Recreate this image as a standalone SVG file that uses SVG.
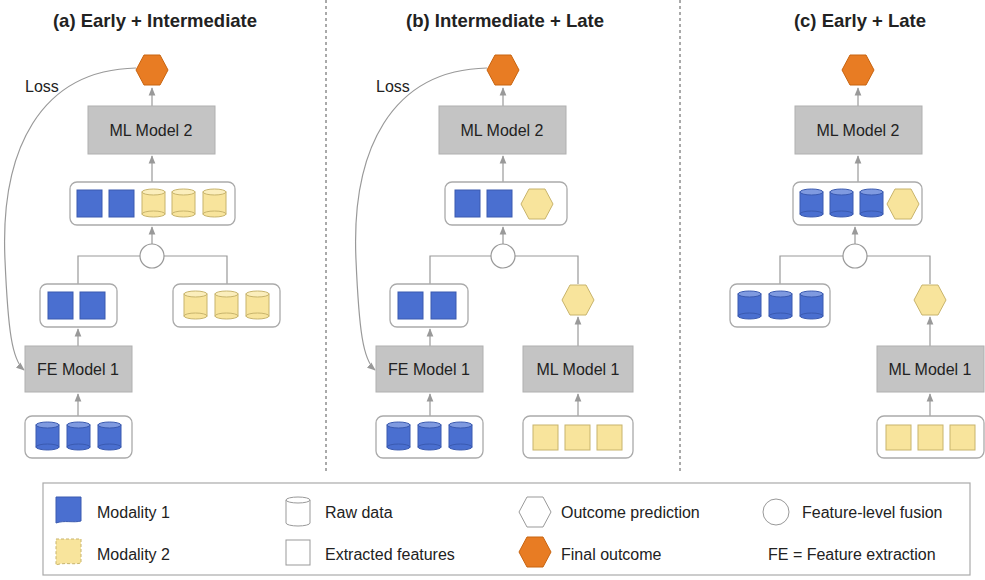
<svg xmlns="http://www.w3.org/2000/svg" width="985" height="580" viewBox="0 0 985 580">
<defs>
<style>
text{font-family:"Liberation Sans",Arial,sans-serif;fill:#222}
.t{font-size:18.5px;font-weight:bold}
.m{font-size:16px}
.l{font-size:16px}
.box{fill:#c4c4c4;stroke:#b0b0b0;stroke-width:1}
.ct{fill:#fff;stroke:#aaa;stroke-width:1.3}
.b{fill:#4a6fd0;stroke:#3a5ab0;stroke-width:1}
.y{fill:#f8e49c;stroke:#c8b46c;stroke-width:1}
.ln{fill:none;stroke:#999;stroke-width:1.2}
.fo{fill:#e87c23;stroke:#c86410;stroke-width:1}
.ci{fill:#fff;stroke:#999;stroke-width:1.2}
.dv{stroke:#555;stroke-width:1;stroke-dasharray:3,3}
</style>
<marker id="ar" viewBox="0 0 10 10" refX="9" refY="5" markerWidth="7" markerHeight="7" orient="auto"><path d="M0,1 L10,5 L0,9z" fill="#999"/></marker>
<g id="cb"><rect x="0" y="4" width="23" height="22" class="b"/><ellipse cx="11.5" cy="26" rx="11.5" ry="3" class="b"/><ellipse cx="11.5" cy="4" rx="11.5" ry="3" fill="#7f9ae0" stroke="#3a5ab0"/></g>
<g id="cy"><rect x="0" y="4" width="23" height="22" class="y"/><ellipse cx="11.5" cy="26" rx="11.5" ry="3" class="y"/><ellipse cx="11.5" cy="4" rx="11.5" ry="3" fill="#fbeebc" stroke="#c8b46c"/></g>
<rect id="sb" width="25" height="27" class="b"/>
<rect id="sy" width="25" height="25" class="y"/>
<polygon id="hy" points="-8,-15 8,-15 16,0 8,15 -8,15 -16,0" class="y"/>
<polygon id="ho" points="-8,-15 8,-15 16,0 8,15 -8,15 -16,0" class="fo"/>
</defs>
<rect width="985" height="580" fill="#fff"/>
<line x1="326" y1="0" x2="326" y2="472" class="dv"/>
<line x1="680" y1="0" x2="680" y2="472" class="dv"/>
<text x="155" y="27" class="t" text-anchor="middle">(a) Early + Intermediate</text>
<text x="505" y="27" class="t" text-anchor="middle">(b) Intermediate + Late</text>
<text x="860" y="27" class="t" text-anchor="middle">(c) Early + Late</text>

<g id="connectors">
<path class="ln" marker-end="url(#ar)" d="M152,106 V88"/>
<path class="ln" marker-end="url(#ar)" d="M152,182 V156"/>
<path class="ln" marker-end="url(#ar)" d="M152,244 V227"/>
<path class="ln" d="M78,284 V256 H140 M164,256 H227 V284"/>
<path class="ln" marker-end="url(#ar)" d="M78,346 V329"/>
<path class="ln" marker-end="url(#ar)" d="M78,416 V394"/>
<path class="ln" marker-end="url(#ar)" d="M136,68 C40,70 0,150 5,260 C8,330 12,360 24,370"/>

<path class="ln" marker-end="url(#ar)" d="M503,106 V88"/>
<path class="ln" marker-end="url(#ar)" d="M503,182 V156"/>
<path class="ln" marker-end="url(#ar)" d="M503,244 V227"/>
<path class="ln" d="M430,284 V256 H491 M515,256 H578 V284"/>
<path class="ln" marker-end="url(#ar)" d="M430,346 V329"/>
<path class="ln" marker-end="url(#ar)" d="M430,416 V394"/>
<path class="ln" marker-end="url(#ar)" d="M578,346 V317"/>
<path class="ln" marker-end="url(#ar)" d="M578,416 V394"/>
<path class="ln" marker-end="url(#ar)" d="M487,68 C391,70 351,150 356,260 C359,330 363,360 375,370"/>

<path class="ln" marker-end="url(#ar)" d="M858,106 V88"/>
<path class="ln" marker-end="url(#ar)" d="M858,182 V156"/>
<path class="ln" marker-end="url(#ar)" d="M855,244 V227"/>
<path class="ln" d="M780,284 V256 H843 M867,256 H930 V284"/>
<path class="ln" marker-end="url(#ar)" d="M930,346 V317"/>
<path class="ln" marker-end="url(#ar)" d="M930,416 V394"/>
</g>
<text x="25" y="92" class="m">Loss</text>
<text x="376" y="92" class="m">Loss</text>

<g id="a-final"><use href="#ho" x="152" y="70"/></g>
<g id="a-ml2"><rect x="88" y="106" width="127" height="48" class="box"/><text x="151" y="136" class="m" text-anchor="middle">ML Model 2</text></g>
<g id="a-feat"><rect x="70" y="182" width="165" height="43" rx="7" class="ct"/>
<use href="#sb" x="77" y="190"/><use href="#sb" x="109" y="190"/><use href="#cy" x="142" y="188"/><use href="#cy" x="172" y="188"/><use href="#cy" x="203" y="188"/></g>
<g id="a-fuse"><circle cx="152" cy="256" r="12" class="ci"/></g>
<g id="a-ext"><rect x="40" y="284" width="77" height="43" rx="7" class="ct"/><use href="#sb" x="48" y="292"/><use href="#sb" x="80" y="292"/></g>
<g id="a-raw2"><rect x="173" y="284" width="107" height="43" rx="7" class="ct"/><use href="#cy" x="184" y="290"/><use href="#cy" x="215" y="290"/><use href="#cy" x="246" y="290"/></g>
<g id="a-fe1"><rect x="25" y="346" width="107" height="46" class="box"/><text x="78" y="375" class="m" text-anchor="middle">FE Model 1</text></g>
<g id="a-raw1"><rect x="25" y="416" width="107" height="42" rx="7" class="ct"/><use href="#cb" x="36" y="421"/><use href="#cb" x="67" y="421"/><use href="#cb" x="98" y="421"/></g>

<g id="b-final"><use href="#ho" x="503" y="70"/></g>
<g id="b-ml2"><rect x="439" y="106" width="127" height="48" class="box"/><text x="502" y="136" class="m" text-anchor="middle">ML Model 2</text></g>
<g id="b-feat"><rect x="445" y="182" width="122" height="43" rx="7" class="ct"/><use href="#sb" x="455" y="190"/><use href="#sb" x="487" y="190"/><use href="#hy" x="537" y="204"/></g>
<g id="b-fuse"><circle cx="503" cy="256" r="12" class="ci"/></g>
<g id="b-ext"><rect x="390" y="284" width="78" height="43" rx="7" class="ct"/><use href="#sb" x="398" y="292"/><use href="#sb" x="431" y="292"/></g>
<g id="b-pred"><use href="#hy" x="578" y="300"/></g>
<g id="b-fe1"><rect x="376" y="346" width="107" height="46" class="box"/><text x="429" y="375" class="m" text-anchor="middle">FE Model 1</text></g>
<g id="b-ml1"><rect x="523" y="346" width="110" height="46" class="box"/><text x="578" y="375" class="m" text-anchor="middle">ML Model 1</text></g>
<g id="b-raw1"><rect x="376" y="416" width="107" height="42" rx="7" class="ct"/><use href="#cb" x="387" y="421"/><use href="#cb" x="418" y="421"/><use href="#cb" x="449" y="421"/></g>
<g id="b-raw2"><rect x="523" y="416" width="110" height="42" rx="7" class="ct"/><use href="#sy" x="533" y="425"/><use href="#sy" x="565" y="425"/><use href="#sy" x="597" y="425"/></g>

<g id="c-final"><use href="#ho" x="858" y="70"/></g>
<g id="c-ml2"><rect x="795" y="106" width="127" height="48" class="box"/><text x="858" y="136" class="m" text-anchor="middle">ML Model 2</text></g>
<g id="c-feat"><rect x="793" y="182" width="129" height="43" rx="7" class="ct"/><use href="#cb" x="800" y="188"/><use href="#cb" x="830" y="188"/><use href="#cb" x="860" y="188"/><use href="#hy" x="903" y="204"/></g>
<g id="c-fuse"><circle cx="855" cy="256" r="12" class="ci"/></g>
<g id="c-raw1"><rect x="730" y="284" width="100" height="43" rx="7" class="ct"/><use href="#cb" x="738" y="290"/><use href="#cb" x="769" y="290"/><use href="#cb" x="800" y="290"/></g>
<g id="c-pred"><use href="#hy" x="930" y="300"/></g>
<g id="c-ml1"><rect x="877" y="346" width="107" height="46" class="box"/><text x="930" y="375" class="m" text-anchor="middle">ML Model 1</text></g>
<g id="c-raw2"><rect x="877" y="416" width="107" height="42" rx="7" class="ct"/><use href="#sy" x="886" y="425"/><use href="#sy" x="918" y="425"/><use href="#sy" x="950" y="425"/></g>

<g id="legend">
<rect x="43" y="483" width="927" height="92" fill="#fff" stroke="#aaa" stroke-width="1.2"/>
<path d="M56,497 H81 V521 C74,523 64,520 56,523 Z" class="b"/>
<path d="M56,539 H81 V563 C74,565 64,562 56,565 Z" class="y" stroke-dasharray="3,2" stroke="#999"/>
<text x="97" y="518" class="l">Modality 1</text>
<text x="97" y="560" class="l">Modality 2</text>
<path d="M286,500 V523 A12,3 0 0 0 310,523 V500" fill="#fff" stroke="#999"/>
<ellipse cx="298" cy="500" rx="12" ry="3" fill="#fff" stroke="#999"/>
<rect x="286" y="540" width="24" height="25" fill="#fff" stroke="#999"/>
<text x="325" y="518" class="l">Raw data</text>
<text x="325" y="560" class="l">Extracted features</text>
<polygon points="527,497 543,497 551,512 543,527 527,527 519,512" fill="#fff" stroke="#999"/>
<use href="#ho" x="535" y="552"/>
<text x="561" y="518" class="l">Outcome prediction</text>
<text x="561" y="560" class="l">Final outcome</text>
<circle cx="776" cy="512" r="13" fill="#fff" stroke="#999"/>
<text x="802" y="518" class="l">Feature-level fusion</text>
<text x="768" y="560" class="l">FE = Feature extraction</text>
</g>
</svg>
